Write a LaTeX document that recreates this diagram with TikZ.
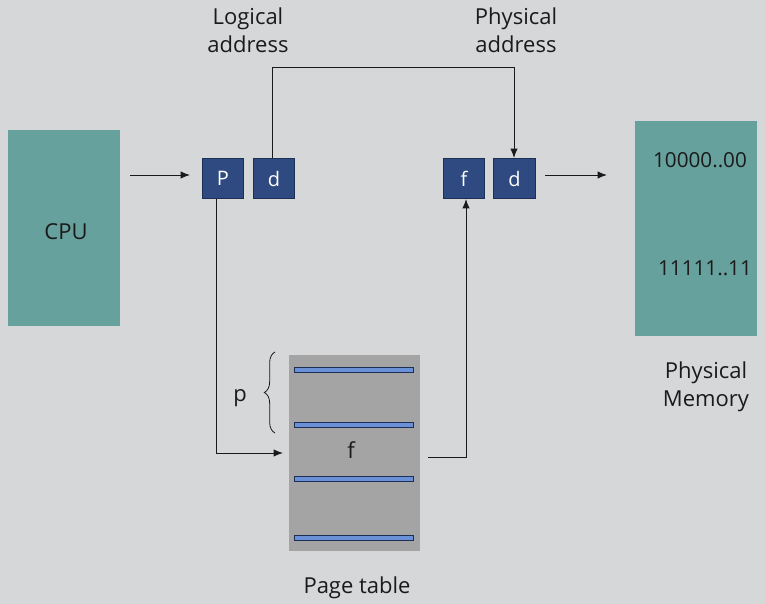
\documentclass[tikz,border=0pt]{standalone}
\usepackage{fontspec}
\setmainfont{Open Sans}
\usetikzlibrary{arrows.meta,decorations.pathreplacing}
\definecolor{bg}{HTML}{D6D7D9}
\definecolor{teal}{HTML}{67A19D}
\definecolor{navy}{HTML}{2F4A80}
\definecolor{navyb}{HTML}{1E2F55}
\definecolor{ptgray}{HTML}{A4A4A4}
\definecolor{bar}{HTML}{6A90D8}
\definecolor{ink}{HTML}{1A1A1A}
\tikzset{
  regbox/.style={fill=navy,draw=navyb,line width=0.8pt,minimum width=31pt,minimum height=30pt,inner sep=0pt,text=white,font=\fontsize{15}{18}\selectfont},
  lbl/.style={font=\fontsize{16.5}{21}\selectfont,text=ink,align=center},
  numlbl/.style={lbl,font=\fontsize{15.5}{19}\selectfont},
  conn/.style={draw=ink,line width=0.75pt},
  arr/.style={conn,-{Latex[length=7pt,width=5.5pt]}},
  tbar/.style={fill=bar,draw=navyb,line width=0.6pt}
}
\begin{document}
\begin{tikzpicture}[x=0.75pt,y=-0.75pt]
\fill[bg] (0,0) rectangle (765,604);
\useasboundingbox (0,0) rectangle (765,604);
% CPU
\fill[teal] (8,130) rectangle (120,326);
\node[lbl] (cpu) at (66,232) {CPU};
\coordinate (cpuout) at (130,175);
\coordinate (pin) at (190,175);
% registers
\node[regbox] (p) at (223,178.5) {P};
\node[regbox] (d1) at (274,178.5) {d};
\node[regbox] (f) at (464,178.5) {f};
\node[regbox] (d2) at (514.5,178.5) {d};
\coordinate (pout) at (216,199);
\coordinate (d1out) at (272,158);
\coordinate (d2in) at (514,158);
\coordinate (fin) at (466,199);
\coordinate (d2out) at (545,175);
\coordinate (memin) at (607,175);
% memory
\fill[teal] (635,121) rectangle (757,336);
\node[numlbl] (m1) at (700,160) {10000..00};
\node[numlbl] (m2) at (705,268) {11111..11};
\node[lbl] (pm) at (706,387) {Physical\\Memory};
% labels
\node[lbl] (la) at (248,30) {Logical\\address};
\node[lbl] (pa) at (516,30) {Physical\\address};
% page table
\fill[ptgray] (289,355) rectangle (420,551);
\coordinate (ptin) at (283,453);
\coordinate (ptout) at (428,457);
\foreach \yy in {370,425,479,538}{
  \draw[tbar] (294,\yy-2.5) rectangle (413,\yy+2.5);
}
\node[lbl] (fl) at (351,450) {f};
\node[lbl] (pl) at (240,398) {p};
\draw[ink,line width=0.6pt,decorate,decoration={brace,amplitude=8pt}] (275,433) -- (275,352);
\node[lbl] (ptl) at (357,588) {Page table};
% connectors
\draw[arr] (cpuout) -- (pin);
\draw[arr] (d2out) -- (memin);
\draw[arr] (d1out) -- (272,67) -| (d2in);
\draw[arr] (pout) |- (ptin);
\draw[arr] (ptout) -| (fin);
\end{tikzpicture}
\end{document}
